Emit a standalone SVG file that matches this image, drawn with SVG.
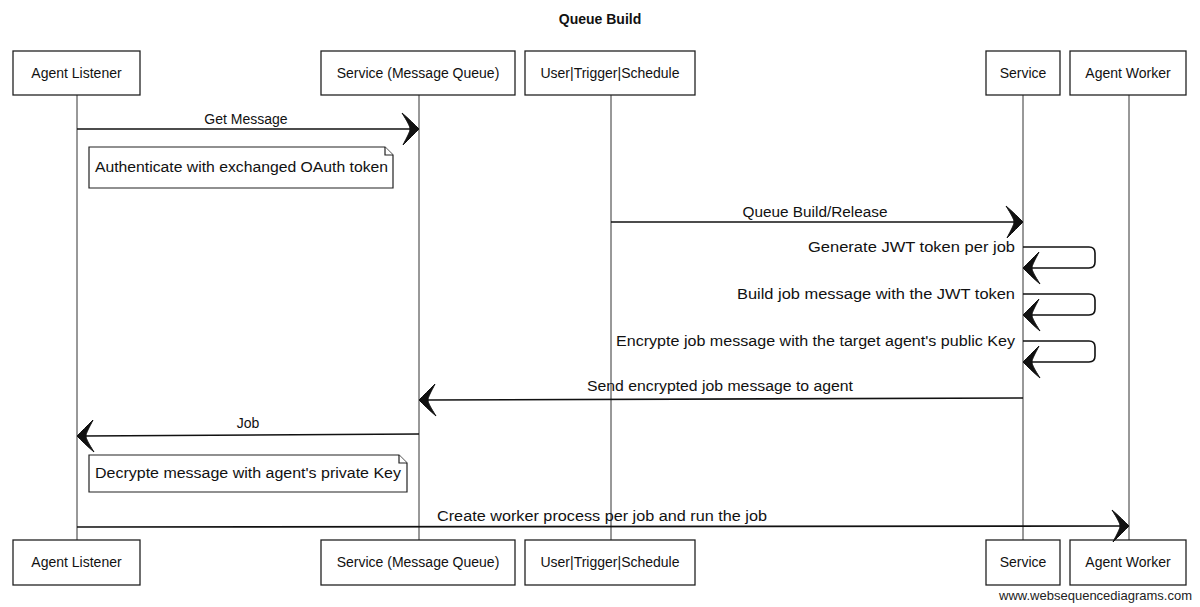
<svg xmlns="http://www.w3.org/2000/svg" width="1200" height="607" viewBox="0 0 1200 607">
<style>
  text { font-family: "Liberation Sans", Arial, sans-serif; font-size: 14px; fill: #111; }
  .title { font-weight: bold; font-size: 14px; }
  .box { fill: #fff; stroke: #222; stroke-width: 1.3; }
  .life { stroke: #333; stroke-width: 1; fill: none; }
  .msg { stroke: #111; stroke-width: 1.6; fill: none; }
  .note { fill: #fff; stroke: #222; stroke-width: 1.2; }
  .wm { font-size: 13px; fill: #222; }
</style>
<defs>
  <path id="head" d="M0,0 C-5,-5 -10,-10 -17,-16 C-12,-8 -9,-3 -9,0 C-9,3 -12,8 -16,16 C-10,10 -5,5 0,0 Z" fill="#111" stroke="#111" stroke-width="1"/>
</defs>
<rect width="1200" height="607" fill="#fff"/>
<text class="title" x="600" y="24" text-anchor="middle">Queue Build</text>

<g id="lifelines">
  <line class="life" x1="77" y1="95" x2="77" y2="540"/>
  <line class="life" x1="419" y1="95" x2="419" y2="540"/>
  <line class="life" x1="611" y1="95" x2="611" y2="540"/>
  <line class="life" x1="1023" y1="95" x2="1023" y2="540"/>
  <line class="life" x1="1129" y1="95" x2="1129" y2="540"/>
</g>

<g id="agent-listener">
  <rect class="box" x="13" y="51" width="127" height="44"/>
  <text x="76.5" y="78" text-anchor="middle">Agent Listener</text>
  <rect class="box" x="13" y="540" width="127" height="45"/>
  <text x="76.5" y="567" text-anchor="middle">Agent Listener</text>
</g>
<g id="service-mq">
  <rect class="box" x="321" y="51" width="194" height="44"/>
  <text x="418" y="78" text-anchor="middle">Service (Message Queue)</text>
  <rect class="box" x="321" y="540" width="194" height="45"/>
  <text x="418" y="567" text-anchor="middle">Service (Message Queue)</text>
</g>
<g id="user-trigger-schedule">
  <rect class="box" x="525" y="51" width="170" height="44"/>
  <text x="610" y="78" text-anchor="middle">User|Trigger|Schedule</text>
  <rect class="box" x="525" y="540" width="170" height="45"/>
  <text x="610" y="567" text-anchor="middle">User|Trigger|Schedule</text>
</g>
<g id="service">
  <rect class="box" x="986" y="51" width="74" height="44"/>
  <text x="1023" y="78" text-anchor="middle">Service</text>
  <rect class="box" x="986" y="540" width="74" height="45"/>
  <text x="1023" y="567" text-anchor="middle">Service</text>
</g>
<g id="agent-worker">
  <rect class="box" x="1070" y="51" width="116" height="44"/>
  <text x="1128" y="78" text-anchor="middle">Agent Worker</text>
  <rect class="box" x="1070" y="540" width="116" height="45"/>
  <text x="1128" y="567" text-anchor="middle">Agent Worker</text>
</g>

<g id="note-auth">
  <path class="note" d="M89,147 L385,147 L393,155 L393,188 L89,188 Z"/>
  <path class="note" d="M385,147 L385,155 L393,155" fill="none"/>
  <text x="95" y="172" textLength="293" lengthAdjust="spacingAndGlyphs">Authenticate with exchanged OAuth token</text>
</g>
<g id="note-decrypt">
  <path class="note" d="M89,455 L399,455 L407,463 L407,492 L89,492 Z"/>
  <path class="note" d="M399,455 L399,463 L407,463" fill="none"/>
  <text x="95" y="478" textLength="306" lengthAdjust="spacingAndGlyphs">Decrypte message with agent's private Key</text>
</g>

<g id="connectors">
  <line class="msg" x1="77" y1="129" x2="412" y2="129"/>
  <use href="#head" transform="translate(419,129)"/>
  <text x="246" y="124" text-anchor="middle">Get Message</text>

  <line class="msg" x1="611" y1="222" x2="1016" y2="222"/>
  <use href="#head" transform="translate(1023,222)"/>
  <text x="815" y="217" text-anchor="middle" textLength="145" lengthAdjust="spacingAndGlyphs">Queue Build/Release</text>

  <path class="msg" d="M1023,247 L1089,247 Q1095,247 1095,253 L1095,262 Q1095,268 1089,268 L1030,268"/>
  <use href="#head" transform="translate(1023,268) rotate(180)"/>
  <text x="1015" y="252" text-anchor="end" textLength="207" lengthAdjust="spacingAndGlyphs">Generate JWT token per job</text>

  <path class="msg" d="M1023,294 L1089,294 Q1095,294 1095,300 L1095,309 Q1095,315 1089,315 L1030,315"/>
  <use href="#head" transform="translate(1023,315) rotate(180)"/>
  <text x="1015" y="299" text-anchor="end" textLength="278" lengthAdjust="spacingAndGlyphs">Build job message with the JWT token</text>

  <path class="msg" d="M1023,341 L1089,341 Q1095,341 1095,347 L1095,356 Q1095,362 1089,362 L1030,362"/>
  <use href="#head" transform="translate(1023,362) rotate(180)"/>
  <text x="1015" y="346" text-anchor="end" textLength="399" lengthAdjust="spacingAndGlyphs">Encrypte job message with the target agent's public Key</text>

  <line class="msg" x1="1023" y1="398" x2="426" y2="400"/>
  <use href="#head" transform="translate(419,400) rotate(180)"/>
  <text x="720" y="391" text-anchor="middle" textLength="266" lengthAdjust="spacingAndGlyphs">Send encrypted job message to agent</text>

  <line class="msg" x1="419" y1="434" x2="84" y2="436"/>
  <use href="#head" transform="translate(77,436) rotate(180)"/>
  <text x="248" y="428" text-anchor="middle">Job</text>

  <line class="msg" x1="77" y1="527" x2="1122" y2="526"/>
  <use href="#head" transform="translate(1129,526)"/>
  <text x="602" y="521" text-anchor="middle" textLength="330" lengthAdjust="spacingAndGlyphs">Create worker process per job and run the job</text>
</g>

<text class="wm" x="1192" y="600" text-anchor="end">www.websequencediagrams.com</text>
</svg>
